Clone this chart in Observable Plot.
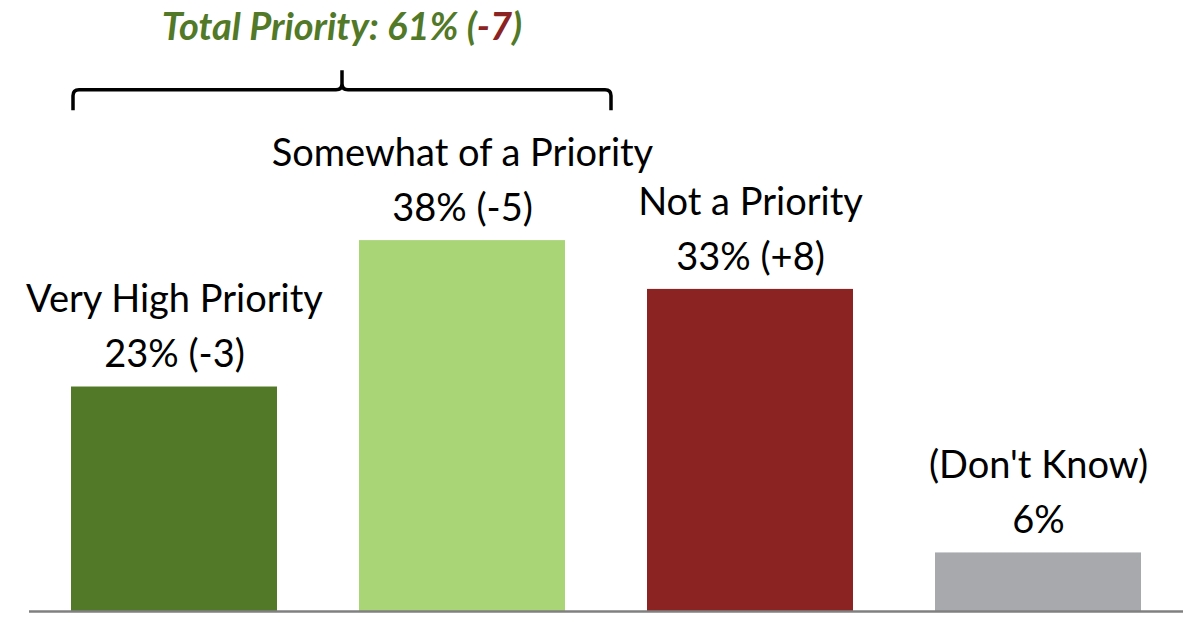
<!DOCTYPE html>
<html>
<head>
<meta charset="utf-8">
<script src="https://cdn.jsdelivr.net/npm/d3@7"></script>
<script src="https://cdn.jsdelivr.net/npm/@observablehq/plot@0.6"></script>
<style>
  html, body { margin: 0; padding: 0; background: #fff; }
  svg { display: block; }
</style>
</head>
<body>
<div id="chart"></div>
<script>
const categories = ["Very High Priority", "Somewhat of a Priority", "Not a Priority", "(Don't Know)"];
const values = [23, 38, 33, 6];
const valueLabels = ["23% (-3)", "38% (-5)", "33% (+8)", "6%"];
const colors = ["#527928", "#A9D577", "#8B2323", "#A7A9AC"];
const totalLabel = ["Total Priority: 61% (", "-7", ")"];

const data = categories.map((c, i) => ({cat: c, value: values[i], label: valueLabels[i], color: colors[i]}));

const FONT = "Lato, 'Open Sans', sans-serif";

const plot = Plot.plot({
  width: 1183,
  height: 622,
  marginTop: 0,
  marginBottom: 11,
  marginLeft: 29,
  marginRight: 0,
  style: {fontFamily: FONT, background: "#fff"},
  x: {domain: categories, paddingInner: 0.284, paddingOuter: 0.142, axis: null},
  y: {domain: [0, 62.6], axis: null},
  marks: [
    Plot.barY(data, {x: "cat", y: "value", fill: "color"}),
    Plot.ruleY([0], {stroke: "#808080", strokeWidth: 2.5}),
    Plot.text(data, {x: "cat", y: "value", text: "label", dy: -32, fontSize: 38, fill: "#000"}),
    Plot.text(data, {x: "cat", y: "value", text: "cat", dy: -87, fontSize: 38, fill: "#000"})
  ]
});

document.getElementById("chart").appendChild(plot);

// Bracket and total label, positioned from the plot's scales
const xs = plot.scale("x");
const ys = plot.scale("y");
const bw = xs.bandwidth;
const left = xs.apply(categories[0]) + 2;
const right = xs.apply(categories[1]) + bw + 46;
const mid = (left + right) / 2;
const yBar = ys.apply(53.4);
const yEnd = ys.apply(51.3);
const yTop = ys.apply(55.4);
const r = 6;

const svg = d3.select(plot);
const path = d3.path();
path.moveTo(left, yEnd);
path.lineTo(left, yBar + r);
path.quadraticCurveTo(left, yBar, left + r, yBar);
path.lineTo(mid - r, yBar);
path.quadraticCurveTo(mid, yBar, mid, yBar - r);
path.lineTo(mid, yTop);
path.moveTo(mid, yBar - r);
path.quadraticCurveTo(mid, yBar, mid + r, yBar);
path.lineTo(right - r, yBar);
path.quadraticCurveTo(right, yBar, right, yBar + r);
path.lineTo(right, yEnd);
svg.append("path")
  .attr("d", path.toString())
  .attr("fill", "none")
  .attr("stroke", "#000")
  .attr("stroke-width", 3.5);

const t = svg.append("text")
  .attr("x", mid)
  .attr("y", ys.apply(58.5))
  .attr("text-anchor", "middle")
  .attr("font-family", FONT)
  .attr("font-size", 38)
  .attr("font-style", "italic")
  .attr("font-weight", "bold")
  .attr("fill", "#527928");
t.append("tspan").text(totalLabel[0]);
t.append("tspan").attr("fill", "#8B2323").text(totalLabel[1]);
t.append("tspan").text(totalLabel[2]);
</script>
</body>
</html>
